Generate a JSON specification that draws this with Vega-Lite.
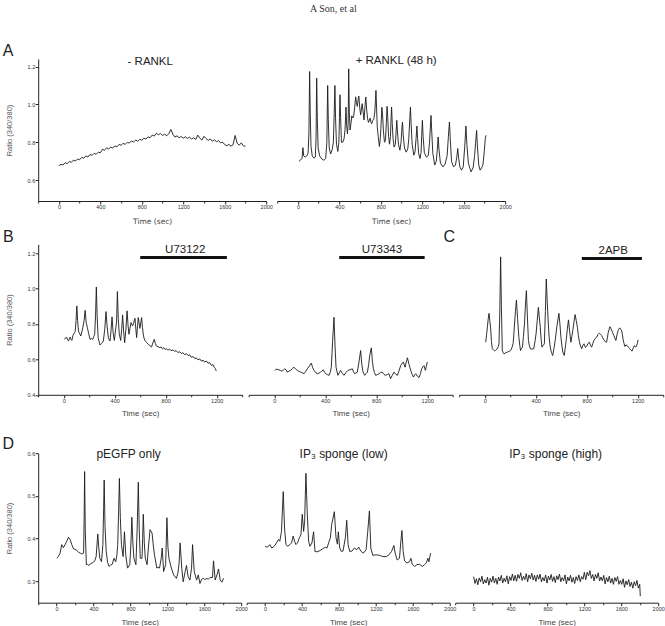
{
"$schema": "https://vega.github.io/schema/vega-lite/v6.json",
"padding": {"left": 2.2, "top": 4, "right": 0, "bottom": 0},
"title": {"text": "A Son, et al", "font": "Liberation Serif", "fontSize": 10, "fontWeight": "normal", "color": "#333", "anchor": "middle", "offset": 29},
"config": {
  "view": {"stroke": null},
  "axis": {"domainColor": "#222", "tickColor": "#222", "labelColor": "#333", "labelFont": "Liberation Sans", "labelFontSize": 5.5, "titleFont": "Liberation Sans", "titleFontWeight": "normal", "titleFontSize": 8, "titleColor": "#444", "grid": false, "labelPadding": 0.5, "titlePadding": 6.5, "labelOverlap": false, "labelBound": false, "labelFlush": false, "tickSize": 3},
  "axisY": {"titleFontSize": 7.5, "titleColor": "#555", "titlePadding": 14},
  "line": {"color": "#1a1a1a", "strokeWidth": 0.9},
  "text": {"font": "Liberation Sans", "color": "#222"}
},
"spacing": 3.3,
"vconcat": [
 {"hconcat": [
  {"width": 228, "height": 142,
   "resolve": {"axis": {"x": "independent", "y": "independent"}},
   "layer": [
    {"data": {"values": [
{"t":0,"r":0.676},{"t":20,"r":0.684},{"t":40,"r":0.68},{"t":60,"r":0.692},{"t":80,"r":0.688},{"t":100,"r":0.698},{"t":120,"r":0.694},{"t":140,"r":0.706},{"t":160,"r":0.701},{"t":180,"r":0.712},{"t":200,"r":0.708},{"t":220,"r":0.72},{"t":240,"r":0.716},{"t":260,"r":0.728},{"t":280,"r":0.722},{"t":300,"r":0.735},{"t":320,"r":0.731},{"t":340,"r":0.742},{"t":360,"r":0.737},{"t":380,"r":0.748},{"t":400,"r":0.745},{"t":420,"r":0.763},{"t":440,"r":0.758},{"t":460,"r":0.771},{"t":480,"r":0.765},{"t":500,"r":0.774},{"t":520,"r":0.77},{"t":540,"r":0.781},{"t":560,"r":0.776},{"t":580,"r":0.789},{"t":600,"r":0.784},{"t":620,"r":0.795},{"t":640,"r":0.789},{"t":660,"r":0.8},{"t":680,"r":0.796},{"t":700,"r":0.807},{"t":720,"r":0.801},{"t":740,"r":0.812},{"t":760,"r":0.806},{"t":780,"r":0.816},{"t":800,"r":0.811},{"t":820,"r":0.822},{"t":840,"r":0.817},{"t":860,"r":0.829},{"t":880,"r":0.824},{"t":900,"r":0.838},{"t":920,"r":0.833},{"t":940,"r":0.848},{"t":960,"r":0.84},{"t":980,"r":0.846},{"t":1000,"r":0.836},{"t":1020,"r":0.843},{"t":1040,"r":0.834},{"t":1060,"r":0.845},{"t":1080,"r":0.868},{"t":1100,"r":0.842},{"t":1120,"r":0.828},{"t":1140,"r":0.834},{"t":1160,"r":0.824},{"t":1180,"r":0.831},{"t":1200,"r":0.822},{"t":1220,"r":0.829},{"t":1240,"r":0.821},{"t":1260,"r":0.827},{"t":1280,"r":0.818},{"t":1300,"r":0.824},{"t":1320,"r":0.815},{"t":1340,"r":0.838},{"t":1360,"r":0.822},{"t":1380,"r":0.812},{"t":1400,"r":0.832},{"t":1420,"r":0.82},{"t":1440,"r":0.81},{"t":1460,"r":0.818},{"t":1480,"r":0.806},{"t":1500,"r":0.813},{"t":1520,"r":0.803},{"t":1540,"r":0.809},{"t":1560,"r":0.797},{"t":1580,"r":0.801},{"t":1600,"r":0.788},{"t":1620,"r":0.782},{"t":1640,"r":0.789},{"t":1660,"r":0.78},{"t":1680,"r":0.787},{"t":1700,"r":0.836},{"t":1720,"r":0.795},{"t":1740,"r":0.785},{"t":1760,"r":0.797},{"t":1780,"r":0.781},{"t":1800,"r":0.779}
    ]},
     "mark": {"type": "line"},
     "encoding": {
      "x": {"field": "t", "type": "quantitative", "title": "Time (sec)", "scale": {"domain": [-200, 2000], "nice": false, "zero": false},
            "axis": {"labelOverlap": false, "titleFont": "DejaVu Sans", "titleFontSize": 7.5, "titlePadding": 7, "values": [0,400,800,1200,1600,2000], "format": "d"}},
      "y": {"field": "r", "type": "quantitative", "title": "Ratio (340/380)", "scale": {"domain": [0.49, 1.24], "nice": false, "zero": false},
            "axis": {"labelOverlap": false, "values": [0.6, 0.8, 1.0, 1.2], "format": ".1f"}}
     }},
    {"data": {"values": [{"t": 881, "r": 1.224, "label": "- RANKL"}]},
     "mark": {"type": "text", "fontSize": 11.5},
     "encoding": {"x": {"field": "t", "type": "quantitative", "axis": {"orient": "bottom", "values": [-200,200,600,1000,1400,1800], "labels": false, "domain": false, "tickSize": 2, "title": null}}, "y": {"field": "r", "type": "quantitative", "axis": null}, "text": {"field": "label"}}},
    {"data": {"values": [{"t": -490, "r": 1.282, "label": "A"}]},
     "mark": {"type": "text", "fontSize": 16},
     "encoding": {"x": {"field": "t", "type": "quantitative", "axis": null}, "y": {"field": "r", "type": "quantitative", "axis": null}, "text": {"field": "label"}}}
   ]},
  {"width": 228, "height": 142,
   "resolve": {"axis": {"x": "independent", "y": "independent"}},
   "layer": [
    {"data": {"values": [
{"t":10,"r":0.7},{"t":25,"r":0.706},{"t":40,"r":0.716},{"t":48,"r":0.772},{"t":56,"r":0.728},{"t":70,"r":0.722},{"t":85,"r":0.728},{"t":98,"r":0.742},{"t":106,"r":0.85},{"t":113,"r":1.174},{"t":119,"r":0.95},{"t":126,"r":0.78},{"t":138,"r":0.728},{"t":155,"r":0.716},{"t":168,"r":0.722},{"t":175,"r":0.82},{"t":181,"r":1.139},{"t":187,"r":0.93},{"t":195,"r":0.77},{"t":210,"r":0.728},{"t":230,"r":0.712},{"t":250,"r":0.705},{"t":268,"r":0.714},{"t":279,"r":0.8},{"t":287,"r":1.1},{"t":293,"r":0.92},{"t":302,"r":0.77},{"t":315,"r":0.738},{"t":330,"r":0.76},{"t":342,"r":0.8},{"t":350,"r":0.95},{"t":357,"r":1.1},{"t":363,"r":0.93},{"t":372,"r":0.79},{"t":385,"r":0.752},{"t":395,"r":0.8},{"t":401,"r":0.93},{"t":406,"r":1.051},{"t":412,"r":0.93},{"t":420,"r":0.8},{"t":432,"r":0.8},{"t":445,"r":0.818},{"t":455,"r":0.87},{"t":464,"r":0.986},{"t":470,"r":0.89},{"t":478,"r":0.845},{"t":485,"r":0.9},{"t":490,"r":1.188},{"t":496,"r":0.96},{"t":503,"r":0.865},{"t":512,"r":0.9},{"t":520,"r":0.94},{"t":528,"r":0.928},{"t":537,"r":0.935},{"t":548,"r":0.985},{"t":557,"r":1.04},{"t":565,"r":1.01},{"t":573,"r":0.99},{"t":582,"r":1.03},{"t":588,"r":1.044},{"t":596,"r":0.985},{"t":605,"r":0.945},{"t":613,"r":0.975},{"t":620,"r":1.004},{"t":628,"r":0.965},{"t":638,"r":0.918},{"t":647,"r":0.99},{"t":655,"r":1.039},{"t":663,"r":0.975},{"t":672,"r":0.925},{"t":681,"r":0.905},{"t":690,"r":0.918},{"t":697,"r":0.928},{"t":705,"r":0.905},{"t":712,"r":0.898},{"t":722,"r":0.915},{"t":733,"r":0.925},{"t":742,"r":0.96},{"t":748,"r":1.02},{"t":753,"r":1.074},{"t":759,"r":0.98},{"t":766,"r":0.88},{"t":775,"r":0.83},{"t":786,"r":0.778},{"t":795,"r":0.82},{"t":803,"r":0.9},{"t":810,"r":0.985},{"t":817,"r":0.945},{"t":825,"r":0.86},{"t":835,"r":0.8},{"t":845,"r":0.81},{"t":853,"r":0.9},{"t":860,"r":0.99},{"t":867,"r":0.93},{"t":875,"r":0.83},{"t":884,"r":0.79},{"t":893,"r":0.83},{"t":899,"r":0.93},{"t":904,"r":0.986},{"t":910,"r":0.9},{"t":918,"r":0.82},{"t":928,"r":0.775},{"t":940,"r":0.79},{"t":948,"r":0.86},{"t":954,"r":0.916},{"t":960,"r":0.86},{"t":970,"r":0.79},{"t":984,"r":0.758},{"t":995,"r":0.8},{"t":1003,"r":0.87},{"t":1009,"r":0.907},{"t":1016,"r":0.84},{"t":1028,"r":0.77},{"t":1045,"r":0.748},{"t":1060,"r":0.765},{"t":1070,"r":0.82},{"t":1080,"r":0.93},{"t":1086,"r":0.986},{"t":1092,"r":0.9},{"t":1102,"r":0.79},{"t":1118,"r":0.732},{"t":1130,"r":0.75},{"t":1140,"r":0.82},{"t":1148,"r":0.886},{"t":1155,"r":0.82},{"t":1165,"r":0.74},{"t":1178,"r":0.714},{"t":1188,"r":0.745},{"t":1195,"r":0.84},{"t":1201,"r":0.916},{"t":1208,"r":0.83},{"t":1220,"r":0.745},{"t":1240,"r":0.722},{"t":1258,"r":0.73},{"t":1270,"r":0.8},{"t":1278,"r":0.88},{"t":1284,"r":0.942},{"t":1291,"r":0.86},{"t":1302,"r":0.74},{"t":1320,"r":0.68},{"t":1335,"r":0.7},{"t":1345,"r":0.76},{"t":1353,"r":0.828},{"t":1360,"r":0.77},{"t":1375,"r":0.69},{"t":1400,"r":0.67},{"t":1420,"r":0.685},{"t":1440,"r":0.73},{"t":1452,"r":0.83},{"t":1462,"r":0.907},{"t":1470,"r":0.82},{"t":1482,"r":0.7},{"t":1502,"r":0.67},{"t":1520,"r":0.68},{"t":1533,"r":0.72},{"t":1542,"r":0.767},{"t":1550,"r":0.72},{"t":1563,"r":0.67},{"t":1578,"r":0.653},{"t":1595,"r":0.67},{"t":1610,"r":0.78},{"t":1621,"r":0.886},{"t":1630,"r":0.79},{"t":1645,"r":0.69},{"t":1670,"r":0.644},{"t":1690,"r":0.665},{"t":1705,"r":0.73},{"t":1715,"r":0.8},{"t":1724,"r":0.863},{"t":1732,"r":0.78},{"t":1745,"r":0.68},{"t":1758,"r":0.653},{"t":1772,"r":0.665},{"t":1785,"r":0.68},{"t":1798,"r":0.75},{"t":1808,"r":0.82},{"t":1815,"r":0.837}
    ]},
     "mark": {"type": "line"},
     "encoding": {
      "x": {"field": "t", "type": "quantitative", "title": "Time (sec)", "scale": {"domain": [-200, 2000], "nice": false, "zero": false},
            "axis": {"labelOverlap": false, "titleFont": "DejaVu Sans", "titleFontSize": 7.5, "titlePadding": 7, "values": [0,400,800,1200,1600,2000], "format": "d"}},
      "y": {"field": "r", "type": "quantitative", "scale": {"domain": [0.49, 1.24], "nice": false, "zero": false}, "axis": null}
     }},
    {"data": {"values": [{"t": 948, "r": 1.229, "label": "+ RANKL (48 h)"}]},
     "mark": {"type": "text", "fontSize": 11.5},
     "encoding": {"x": {"field": "t", "type": "quantitative", "axis": {"orient": "bottom", "values": [-200,200,600,1000,1400,1800], "labels": false, "domain": false, "tickSize": 2, "title": null}}, "y": {"field": "r", "type": "quantitative", "axis": null}, "text": {"field": "label"}}}
   ]}
 ], "spacing": 11, "bounds": "flush"},
 {"vconcat": [
  {"hconcat": [
   {"width": 204, "height": 150.5,
    "resolve": {"axis": {"x": "independent", "y": "independent"}},
    "layer": [
     {"data": {"values": [
{"t":6,"r":0.713},{"t":15,"r":0.722},{"t":25,"r":0.723},{"t":32,"r":0.708},{"t":38,"r":0.704},{"t":45,"r":0.718},{"t":51,"r":0.726},{"t":58,"r":0.712},{"t":64,"r":0.707},{"t":72,"r":0.732},{"t":77,"r":0.742},{"t":84,"r":0.75},{"t":90,"r":0.757},{"t":97,"r":0.82},{"t":103,"r":0.902},{"t":109,"r":0.82},{"t":116,"r":0.76},{"t":125,"r":0.745},{"t":134,"r":0.732},{"t":142,"r":0.755},{"t":150,"r":0.779},{"t":160,"r":0.82},{"t":168,"r":0.877},{"t":176,"r":0.81},{"t":186,"r":0.779},{"t":196,"r":0.745},{"t":207,"r":0.713},{"t":218,"r":0.718},{"t":228,"r":0.713},{"t":236,"r":0.73},{"t":243,"r":0.742},{"t":250,"r":0.85},{"t":256,"r":1.009},{"t":262,"r":0.85},{"t":270,"r":0.723},{"t":278,"r":0.7},{"t":285,"r":0.681},{"t":298,"r":0.69},{"t":311,"r":0.704},{"t":322,"r":0.77},{"t":332,"r":0.87},{"t":340,"r":0.79},{"t":350,"r":0.723},{"t":357,"r":0.712},{"t":363,"r":0.704},{"t":371,"r":0.76},{"t":379,"r":0.84},{"t":388,"r":0.75},{"t":397,"r":0.707},{"t":406,"r":0.76},{"t":415,"r":0.817},{"t":421,"r":0.983},{"t":428,"r":0.83},{"t":436,"r":0.742},{"t":447,"r":0.707},{"t":455,"r":0.77},{"t":462,"r":0.851},{"t":470,"r":0.76},{"t":478,"r":0.694},{"t":488,"r":0.77},{"t":497,"r":0.874},{"t":505,"r":0.79},{"t":512,"r":0.742},{"t":520,"r":0.775},{"t":528,"r":0.808},{"t":535,"r":0.795},{"t":541,"r":0.789},{"t":550,"r":0.81},{"t":559,"r":0.832},{"t":566,"r":0.77},{"t":572,"r":0.723},{"t":579,"r":0.79},{"t":585,"r":0.836},{"t":592,"r":0.8},{"t":598,"r":0.775},{"t":605,"r":0.81},{"t":611,"r":0.836},{"t":618,"r":0.78},{"t":624,"r":0.742},{"t":630,"r":0.72},{"t":637,"r":0.707},{"t":650,"r":0.695},{"t":663,"r":0.685},{"t":676,"r":0.678},{"t":689,"r":0.67},{"t":700,"r":0.695},{"t":710,"r":0.713},{"t":719,"r":0.69},{"t":728,"r":0.675},{"t":740,"r":0.672},{"t":754,"r":0.666},{"t":765,"r":0.67},{"t":775,"r":0.66},{"t":785,"r":0.666},{"t":795,"r":0.656},{"t":806,"r":0.66},{"t":818,"r":0.652},{"t":830,"r":0.658},{"t":842,"r":0.649},{"t":858,"r":0.654},{"t":870,"r":0.645},{"t":882,"r":0.65},{"t":895,"r":0.639},{"t":910,"r":0.643},{"t":922,"r":0.633},{"t":935,"r":0.638},{"t":948,"r":0.627},{"t":963,"r":0.632},{"t":975,"r":0.622},{"t":988,"r":0.626},{"t":1000,"r":0.612},{"t":1015,"r":0.616},{"t":1028,"r":0.604},{"t":1040,"r":0.609},{"t":1053,"r":0.597},{"t":1067,"r":0.603},{"t":1080,"r":0.59},{"t":1093,"r":0.596},{"t":1105,"r":0.584},{"t":1119,"r":0.591},{"t":1132,"r":0.578},{"t":1145,"r":0.582},{"t":1158,"r":0.566},{"t":1171,"r":0.57},{"t":1180,"r":0.556},{"t":1189,"r":0.548},{"t":1197,"r":0.534}
     ]},
      "mark": {"type": "line"},
      "encoding": {
       "x": {"field": "t", "type": "quantitative", "title": "Time (sec)", "scale": {"domain": [-200, 1400], "nice": false, "zero": false},
             "axis": {"labelOverlap": false, "titlePadding": 5.5, "values": [0,400,800,1200], "format": "d"}},
       "y": {"field": "r", "type": "quantitative", "title": "Ratio (340/380)", "scale": {"domain": [0.4, 1.25], "nice": false, "zero": false},
             "axis": {"labelOverlap": false, "values": [0.4, 0.6, 0.8, 1.0, 1.2], "format": ".1f"}}
      }},
     {"data": {"values": [{"t": 600, "t2": 1280, "r": 1.175}]},
      "mark": {"type": "rule", "strokeWidth": 3, "color": "#111"},
      "encoding": {"x": {"field": "t", "type": "quantitative", "axis": {"orient": "bottom", "values": [-200,200,600,1000,1400], "labels": false, "domain": false, "tickSize": 2, "title": null}}, "x2": {"field": "t2"}, "y": {"field": "r", "type": "quantitative", "axis": null}}},
     {"data": {"values": [{"t": 953, "r": 1.216, "label": "U73122"}]},
      "mark": {"type": "text", "fontSize": 11.5},
      "encoding": {"x": {"field": "t", "type": "quantitative", "axis": null}, "y": {"field": "r", "type": "quantitative", "axis": null}, "text": {"field": "label"}}},
     {"data": {"values": [{"t": -435, "r": 1.29, "label": "B"}]},
      "mark": {"type": "text", "fontSize": 16},
      "encoding": {"x": {"field": "t", "type": "quantitative", "axis": null}, "y": {"field": "r", "type": "quantitative", "axis": null}, "text": {"field": "label"}}}
    ]},
   {"width": 204, "height": 150.5,
    "resolve": {"axis": {"x": "independent", "y": "independent"}},
    "layer": [
     {"data": {"values": [
{"t":4,"r":0.538},{"t":20,"r":0.545},{"t":38,"r":0.541},{"t":50,"r":0.536},{"t":64,"r":0.534},{"t":82,"r":0.547},{"t":95,"r":0.54},{"t":103,"r":0.528},{"t":116,"r":0.534},{"t":129,"r":0.538},{"t":142,"r":0.548},{"t":155,"r":0.556},{"t":168,"r":0.545},{"t":182,"r":0.538},{"t":195,"r":0.532},{"t":208,"r":0.528},{"t":221,"r":0.524},{"t":234,"r":0.519},{"t":247,"r":0.532},{"t":260,"r":0.547},{"t":275,"r":0.562},{"t":291,"r":0.579},{"t":301,"r":0.555},{"t":312,"r":0.538},{"t":325,"r":0.526},{"t":338,"r":0.519},{"t":351,"r":0.522},{"t":364,"r":0.528},{"t":375,"r":0.536},{"t":385,"r":0.541},{"t":395,"r":0.528},{"t":404,"r":0.519},{"t":417,"r":0.514},{"t":430,"r":0.51},{"t":440,"r":0.528},{"t":448,"r":0.556},{"t":458,"r":0.7},{"t":469,"r":0.838},{"t":477,"r":0.68},{"t":485,"r":0.556},{"t":493,"r":0.53},{"t":500,"r":0.51},{"t":510,"r":0.524},{"t":521,"r":0.538},{"t":534,"r":0.522},{"t":547,"r":0.51},{"t":563,"r":0.526},{"t":579,"r":0.538},{"t":596,"r":0.542},{"t":613,"r":0.547},{"t":622,"r":0.53},{"t":631,"r":0.519},{"t":642,"r":0.524},{"t":652,"r":0.528},{"t":665,"r":0.585},{"t":678,"r":0.65},{"t":686,"r":0.58},{"t":694,"r":0.538},{"t":702,"r":0.52},{"t":710,"r":0.51},{"t":720,"r":0.52},{"t":731,"r":0.528},{"t":741,"r":0.57},{"t":749,"r":0.622},{"t":762,"r":0.665},{"t":770,"r":0.59},{"t":778,"r":0.547},{"t":787,"r":0.525},{"t":796,"r":0.51},{"t":809,"r":0.514},{"t":822,"r":0.519},{"t":835,"r":0.526},{"t":848,"r":0.528},{"t":861,"r":0.515},{"t":874,"r":0.51},{"t":887,"r":0.515},{"t":900,"r":0.519},{"t":913,"r":0.491},{"t":926,"r":0.51},{"t":940,"r":0.528},{"t":953,"r":0.516},{"t":966,"r":0.51},{"t":979,"r":0.535},{"t":992,"r":0.565},{"t":1003,"r":0.578},{"t":1013,"r":0.585},{"t":1020,"r":0.57},{"t":1026,"r":0.556},{"t":1036,"r":0.585},{"t":1045,"r":0.609},{"t":1058,"r":0.57},{"t":1071,"r":0.538},{"t":1082,"r":0.515},{"t":1092,"r":0.5},{"t":1101,"r":0.512},{"t":1110,"r":0.519},{"t":1123,"r":0.505},{"t":1136,"r":0.497},{"t":1147,"r":0.52},{"t":1157,"r":0.547},{"t":1166,"r":0.558},{"t":1175,"r":0.565},{"t":1180,"r":0.55},{"t":1186,"r":0.538},{"t":1193,"r":0.56},{"t":1201,"r":0.585}
     ]},
      "mark": {"type": "line"},
      "encoding": {
       "x": {"field": "t", "type": "quantitative", "title": "Time (sec)", "scale": {"domain": [-200, 1400], "nice": false, "zero": false},
             "axis": {"labelOverlap": false, "titlePadding": 5.5, "values": [0,400,800,1200], "format": "d"}},
       "y": {"field": "r", "type": "quantitative", "scale": {"domain": [0.4, 1.25], "nice": false, "zero": false}, "axis": null}
      }},
     {"data": {"values": [{"t": 510, "t2": 1180, "r": 1.175}]},
      "mark": {"type": "rule", "strokeWidth": 3, "color": "#111"},
      "encoding": {"x": {"field": "t", "type": "quantitative", "axis": {"orient": "bottom", "values": [-200,200,600,1000,1400], "labels": false, "domain": false, "tickSize": 2, "title": null}}, "x2": {"field": "t2"}, "y": {"field": "r", "type": "quantitative", "axis": null}}},
     {"data": {"values": [{"t": 845, "r": 1.216, "label": "U73343"}]},
      "mark": {"type": "text", "fontSize": 11.5},
      "encoding": {"x": {"field": "t", "type": "quantitative", "axis": null}, "y": {"field": "r", "type": "quantitative", "axis": null}, "text": {"field": "label"}}}
    ]},
   {"width": 204, "height": 150.5,
    "resolve": {"axis": {"x": "independent", "y": "independent"}},
    "layer": [
     {"data": {"values": [
{"t":8,"r":0.697},{"t":15,"r":0.74},{"t":21,"r":0.782},{"t":28,"r":0.83},{"t":34,"r":0.86},{"t":40,"r":0.82},{"t":47,"r":0.772},{"t":53,"r":0.7},{"t":60,"r":0.66},{"t":70,"r":0.652},{"t":78,"r":0.647},{"t":89,"r":0.655},{"t":99,"r":0.66},{"t":106,"r":0.672},{"t":112,"r":0.688},{"t":118,"r":0.85},{"t":125,"r":1.179},{"t":131,"r":0.9},{"t":138,"r":0.65},{"t":145,"r":0.638},{"t":151,"r":0.631},{"t":164,"r":0.637},{"t":177,"r":0.641},{"t":190,"r":0.645},{"t":203,"r":0.65},{"t":213,"r":0.665},{"t":223,"r":0.688},{"t":229,"r":0.745},{"t":234,"r":0.8},{"t":241,"r":0.87},{"t":249,"r":0.935},{"t":258,"r":0.83},{"t":268,"r":0.725},{"t":275,"r":0.68},{"t":281,"r":0.65},{"t":288,"r":0.66},{"t":296,"r":0.669},{"t":304,"r":0.73},{"t":312,"r":0.8},{"t":319,"r":0.9},{"t":327,"r":0.988},{"t":335,"r":0.84},{"t":343,"r":0.707},{"t":351,"r":0.675},{"t":359,"r":0.66},{"t":372,"r":0.658},{"t":385,"r":0.66},{"t":394,"r":0.7},{"t":403,"r":0.744},{"t":412,"r":0.82},{"t":421,"r":0.894},{"t":428,"r":0.84},{"t":436,"r":0.782},{"t":442,"r":0.72},{"t":449,"r":0.669},{"t":458,"r":0.678},{"t":468,"r":0.688},{"t":476,"r":0.87},{"t":483,"r":1.054},{"t":491,"r":0.92},{"t":499,"r":0.8},{"t":506,"r":0.72},{"t":514,"r":0.669},{"t":523,"r":0.64},{"t":533,"r":0.622},{"t":543,"r":0.66},{"t":553,"r":0.707},{"t":567,"r":0.79},{"t":582,"r":0.86},{"t":590,"r":0.8},{"t":598,"r":0.725},{"t":606,"r":0.675},{"t":613,"r":0.641},{"t":619,"r":0.63},{"t":624,"r":0.622},{"t":631,"r":0.66},{"t":639,"r":0.707},{"t":648,"r":0.77},{"t":657,"r":0.823},{"t":666,"r":0.76},{"t":676,"r":0.697},{"t":684,"r":0.73},{"t":691,"r":0.763},{"t":700,"r":0.81},{"t":709,"r":0.853},{"t":718,"r":0.82},{"t":727,"r":0.782},{"t":735,"r":0.735},{"t":743,"r":0.697},{"t":752,"r":0.675},{"t":761,"r":0.66},{"t":770,"r":0.68},{"t":779,"r":0.688},{"t":790,"r":0.668},{"t":800,"r":0.673},{"t":810,"r":0.69},{"t":821,"r":0.697},{"t":830,"r":0.68},{"t":839,"r":0.669},{"t":848,"r":0.69},{"t":857,"r":0.707},{"t":867,"r":0.718},{"t":878,"r":0.725},{"t":888,"r":0.74},{"t":899,"r":0.748},{"t":908,"r":0.742},{"t":917,"r":0.735},{"t":926,"r":0.722},{"t":935,"r":0.71},{"t":946,"r":0.7},{"t":956,"r":0.697},{"t":963,"r":0.725},{"t":969,"r":0.753},{"t":976,"r":0.77},{"t":982,"r":0.785},{"t":989,"r":0.775},{"t":995,"r":0.766},{"t":1004,"r":0.75},{"t":1013,"r":0.735},{"t":1021,"r":0.72},{"t":1029,"r":0.707},{"t":1038,"r":0.74},{"t":1047,"r":0.763},{"t":1053,"r":0.772},{"t":1060,"r":0.778},{"t":1066,"r":0.77},{"t":1073,"r":0.766},{"t":1080,"r":0.74},{"t":1086,"r":0.71},{"t":1093,"r":0.69},{"t":1099,"r":0.673},{"t":1108,"r":0.682},{"t":1117,"r":0.678},{"t":1128,"r":0.668},{"t":1138,"r":0.66},{"t":1147,"r":0.652},{"t":1156,"r":0.647},{"t":1165,"r":0.665},{"t":1174,"r":0.678},{"t":1182,"r":0.67},{"t":1190,"r":0.673},{"t":1197,"r":0.69},{"t":1203,"r":0.71}
     ]},
      "mark": {"type": "line"},
      "encoding": {
       "x": {"field": "t", "type": "quantitative", "title": "Time (sec)", "scale": {"domain": [-200, 1400], "nice": false, "zero": false},
             "axis": {"labelOverlap": false, "titlePadding": 5.5, "values": [0,400,800,1200], "format": "d"}},
       "y": {"field": "r", "type": "quantitative", "scale": {"domain": [0.4, 1.25], "nice": false, "zero": false}, "axis": null}
      }},
     {"data": {"values": [{"t": 762, "t2": 1233, "r": 1.17}]},
      "mark": {"type": "rule", "strokeWidth": 3, "color": "#111"},
      "encoding": {"x": {"field": "t", "type": "quantitative", "axis": {"orient": "bottom", "values": [-200,200,600,1000,1400], "labels": false, "domain": false, "tickSize": 2, "title": null}}, "x2": {"field": "t2"}, "y": {"field": "r", "type": "quantitative", "axis": null}}},
     {"data": {"values": [{"t": 1008, "r": 1.21, "label": "2APB"}]},
      "mark": {"type": "text", "fontSize": 11.5},
      "encoding": {"x": {"field": "t", "type": "quantitative", "axis": null}, "y": {"field": "r", "type": "quantitative", "axis": null}, "text": {"field": "label"}}},
     {"data": {"values": [{"t": -278, "r": 1.29, "label": "C"}]},
      "mark": {"type": "text", "fontSize": 16},
      "encoding": {"x": {"field": "t", "type": "quantitative", "axis": null}, "y": {"field": "r", "type": "quantitative", "axis": null}, "text": {"field": "label"}}}
    ]}
  ], "spacing": 6.5, "bounds": "flush"},
  {"hconcat": [
   {"width": 203, "height": 149.5,
    "resolve": {"axis": {"x": "independent", "y": "independent"}},
    "layer": [
     {"data": {"values": [
{"t":0,"r":0.354},{"t":18,"r":0.358},{"t":37,"r":0.366},{"t":55,"r":0.386},{"t":73,"r":0.379},{"t":91,"r":0.386},{"t":110,"r":0.394},{"t":128,"r":0.403},{"t":146,"r":0.398},{"t":164,"r":0.386},{"t":183,"r":0.376},{"t":200,"r":0.375},{"t":219,"r":0.372},{"t":238,"r":0.368},{"t":256,"r":0.366},{"t":274,"r":0.364},{"t":292,"r":0.366},{"t":298,"r":0.45},{"t":303,"r":0.557},{"t":310,"r":0.42},{"t":322,"r":0.339},{"t":335,"r":0.34},{"t":347,"r":0.337},{"t":365,"r":0.341},{"t":384,"r":0.343},{"t":400,"r":0.345},{"t":413,"r":0.348},{"t":428,"r":0.358},{"t":437,"r":0.385},{"t":446,"r":0.411},{"t":456,"r":0.38},{"t":468,"r":0.354},{"t":486,"r":0.346},{"t":501,"r":0.386},{"t":509,"r":0.47},{"t":515,"r":0.537},{"t":524,"r":0.43},{"t":537,"r":0.37},{"t":552,"r":0.345},{"t":567,"r":0.335},{"t":585,"r":0.338},{"t":603,"r":0.34},{"t":621,"r":0.354},{"t":640,"r":0.346},{"t":652,"r":0.36},{"t":662,"r":0.386},{"t":672,"r":0.47},{"t":680,"r":0.541},{"t":690,"r":0.45},{"t":702,"r":0.386},{"t":720,"r":0.358},{"t":735,"r":0.416},{"t":749,"r":0.362},{"t":768,"r":0.331},{"t":793,"r":0.339},{"t":805,"r":0.39},{"t":815,"r":0.45},{"t":826,"r":0.39},{"t":837,"r":0.354},{"t":859,"r":0.339},{"t":872,"r":0.42},{"t":885,"r":0.532},{"t":895,"r":0.42},{"t":906,"r":0.354},{"t":925,"r":0.354},{"t":932,"r":0.4},{"t":939,"r":0.457},{"t":950,"r":0.39},{"t":961,"r":0.354},{"t":980,"r":0.339},{"t":994,"r":0.378},{"t":1012,"r":0.421},{"t":1034,"r":0.413},{"t":1047,"r":0.385},{"t":1060,"r":0.362},{"t":1086,"r":0.331},{"t":1100,"r":0.333},{"t":1115,"r":0.331},{"t":1133,"r":0.354},{"t":1144,"r":0.378},{"t":1159,"r":0.323},{"t":1181,"r":0.339},{"t":1195,"r":0.449},{"t":1206,"r":0.38},{"t":1217,"r":0.354},{"t":1243,"r":0.331},{"t":1268,"r":0.315},{"t":1298,"r":0.307},{"t":1315,"r":0.32},{"t":1327,"r":0.343},{"t":1338,"r":0.39},{"t":1356,"r":0.331},{"t":1371,"r":0.299},{"t":1393,"r":0.323},{"t":1407,"r":0.337},{"t":1425,"r":0.311},{"t":1444,"r":0.303},{"t":1462,"r":0.331},{"t":1473,"r":0.386},{"t":1491,"r":0.323},{"t":1517,"r":0.303},{"t":1535,"r":0.315},{"t":1553,"r":0.295},{"t":1572,"r":0.305},{"t":1590,"r":0.307},{"t":1608,"r":0.304},{"t":1626,"r":0.307},{"t":1645,"r":0.305},{"t":1663,"r":0.309},{"t":1689,"r":0.309},{"t":1700,"r":0.348},{"t":1718,"r":0.303},{"t":1743,"r":0.319},{"t":1754,"r":0.329},{"t":1773,"r":0.303},{"t":1791,"r":0.298},{"t":1809,"r":0.307}
     ]},
      "mark": {"type": "line"},
      "encoding": {
       "x": {"field": "t", "type": "quantitative", "title": "Time (sec)", "scale": {"domain": [-200, 2000], "nice": false, "zero": false},
             "axis": {"labelOverlap": false, "titlePadding": 6.5, "values": [0,400,800,1200,1600,2000], "format": "d"}},
       "y": {"field": "r", "type": "quantitative", "title": "Ratio (340/380)", "scale": {"domain": [0.25, 0.6], "nice": false, "zero": false},
             "axis": {"labelOverlap": false, "values": [0.3, 0.4, 0.5, 0.6], "format": ".1f"}}
      }},
     {"data": {"values": [{"t": 780, "r": 0.597, "label": "pEGFP only"}]},
      "mark": {"type": "text", "fontSize": 12},
      "encoding": {"x": {"field": "t", "type": "quantitative", "axis": {"orient": "bottom", "values": [-200,200,600,1000,1400,1800], "labels": false, "domain": false, "tickSize": 2, "title": null}}, "y": {"field": "r", "type": "quantitative", "axis": null}, "text": {"field": "label"}}},
     {"data": {"values": [{"t": -525, "r": 0.621, "label": "D"}]},
      "mark": {"type": "text", "fontSize": 16},
      "encoding": {"x": {"field": "t", "type": "quantitative", "axis": null}, "y": {"field": "r", "type": "quantitative", "axis": null}, "text": {"field": "label"}}}
    ]},
   {"width": 203, "height": 149.5,
    "resolve": {"axis": {"x": "independent", "y": "independent"}},
    "layer": [
     {"data": {"values": [
{"t":0,"r":0.382},{"t":25,"r":0.38},{"t":51,"r":0.386},{"t":72,"r":0.378},{"t":98,"r":0.382},{"t":123,"r":0.39},{"t":145,"r":0.398},{"t":159,"r":0.394},{"t":177,"r":0.417},{"t":196,"r":0.51},{"t":210,"r":0.425},{"t":225,"r":0.387},{"t":243,"r":0.382},{"t":268,"r":0.386},{"t":286,"r":0.39},{"t":304,"r":0.406},{"t":319,"r":0.394},{"t":333,"r":0.386},{"t":351,"r":0.39},{"t":370,"r":0.402},{"t":388,"r":0.409},{"t":402,"r":0.457},{"t":417,"r":0.417},{"t":428,"r":0.441},{"t":435,"r":0.5},{"t":442,"r":0.553},{"t":450,"r":0.5},{"t":457,"r":0.457},{"t":471,"r":0.394},{"t":486,"r":0.382},{"t":507,"r":0.39},{"t":525,"r":0.416},{"t":540,"r":0.37},{"t":562,"r":0.369},{"t":594,"r":0.372},{"t":623,"r":0.376},{"t":652,"r":0.38},{"t":670,"r":0.378},{"t":688,"r":0.39},{"t":707,"r":0.402},{"t":721,"r":0.433},{"t":750,"r":0.463},{"t":768,"r":0.402},{"t":783,"r":0.387},{"t":793,"r":0.416},{"t":808,"r":0.378},{"t":826,"r":0.37},{"t":844,"r":0.371},{"t":870,"r":0.403},{"t":884,"r":0.443},{"t":899,"r":0.386},{"t":917,"r":0.37},{"t":942,"r":0.371},{"t":967,"r":0.378},{"t":993,"r":0.374},{"t":1014,"r":0.38},{"t":1040,"r":0.37},{"t":1065,"r":0.366},{"t":1094,"r":0.374},{"t":1112,"r":0.417},{"t":1130,"r":0.465},{"t":1145,"r":0.378},{"t":1167,"r":0.361},{"t":1203,"r":0.362},{"t":1239,"r":0.361},{"t":1275,"r":0.358},{"t":1312,"r":0.358},{"t":1341,"r":0.362},{"t":1370,"r":0.37},{"t":1395,"r":0.384},{"t":1409,"r":0.366},{"t":1431,"r":0.35},{"t":1456,"r":0.354},{"t":1471,"r":0.394},{"t":1482,"r":0.419},{"t":1496,"r":0.37},{"t":1511,"r":0.348},{"t":1536,"r":0.343},{"t":1565,"r":0.346},{"t":1580,"r":0.354},{"t":1594,"r":0.34},{"t":1620,"r":0.335},{"t":1645,"r":0.339},{"t":1674,"r":0.34},{"t":1703,"r":0.335},{"t":1728,"r":0.339},{"t":1746,"r":0.343},{"t":1764,"r":0.354},{"t":1775,"r":0.346},{"t":1793,"r":0.366}
     ]},
      "mark": {"type": "line"},
      "encoding": {
       "x": {"field": "t", "type": "quantitative", "title": "Time (sec)", "scale": {"domain": [-200, 2000], "nice": false, "zero": false},
             "axis": {"labelOverlap": false, "titlePadding": 6.5, "values": [0,400,800,1200,1600,2000], "format": "d"}},
       "y": {"field": "r", "type": "quantitative", "scale": {"domain": [0.25, 0.6], "nice": false, "zero": false}, "axis": null}
      }},
     {"data": {"values": [{"t": 851, "r": 0.597, "label": "IP₃ sponge (low)"}]},
      "mark": {"type": "text", "fontSize": 12},
      "encoding": {"x": {"field": "t", "type": "quantitative", "axis": {"orient": "bottom", "values": [-200,200,600,1000,1400,1800], "labels": false, "domain": false, "tickSize": 2, "title": null}}, "y": {"field": "r", "type": "quantitative", "axis": null}, "text": {"field": "label"}}}
    ]},
   {"width": 203, "height": 149.5,
    "resolve": {"axis": {"x": "independent", "y": "independent"}},
    "layer": [
     {"data": {"values": [
{"t":0,"r":0.311},{"t":15,"r":0.295},{"t":30,"r":0.306},{"t":45,"r":0.292},{"t":60,"r":0.308},{"t":75,"r":0.299},{"t":90,"r":0.312},{"t":105,"r":0.294},{"t":120,"r":0.304},{"t":135,"r":0.296},{"t":150,"r":0.31},{"t":165,"r":0.291},{"t":180,"r":0.307},{"t":195,"r":0.298},{"t":210,"r":0.312},{"t":225,"r":0.296},{"t":240,"r":0.307},{"t":255,"r":0.293},{"t":270,"r":0.31},{"t":285,"r":0.301},{"t":300,"r":0.314},{"t":315,"r":0.296},{"t":330,"r":0.307},{"t":345,"r":0.299},{"t":360,"r":0.313},{"t":375,"r":0.294},{"t":390,"r":0.311},{"t":405,"r":0.302},{"t":420,"r":0.317},{"t":435,"r":0.301},{"t":450,"r":0.314},{"t":465,"r":0.3},{"t":480,"r":0.316},{"t":495,"r":0.307},{"t":510,"r":0.32},{"t":525,"r":0.302},{"t":540,"r":0.312},{"t":555,"r":0.304},{"t":570,"r":0.318},{"t":585,"r":0.299},{"t":600,"r":0.315},{"t":615,"r":0.306},{"t":630,"r":0.319},{"t":645,"r":0.303},{"t":660,"r":0.314},{"t":675,"r":0.3},{"t":690,"r":0.315},{"t":705,"r":0.305},{"t":720,"r":0.317},{"t":735,"r":0.299},{"t":750,"r":0.309},{"t":765,"r":0.301},{"t":780,"r":0.315},{"t":795,"r":0.296},{"t":810,"r":0.312},{"t":825,"r":0.303},{"t":840,"r":0.316},{"t":855,"r":0.3},{"t":870,"r":0.311},{"t":885,"r":0.297},{"t":900,"r":0.313},{"t":915,"r":0.304},{"t":930,"r":0.317},{"t":945,"r":0.299},{"t":960,"r":0.309},{"t":975,"r":0.301},{"t":990,"r":0.315},{"t":1005,"r":0.294},{"t":1020,"r":0.31},{"t":1035,"r":0.301},{"t":1050,"r":0.314},{"t":1065,"r":0.298},{"t":1080,"r":0.309},{"t":1095,"r":0.295},{"t":1110,"r":0.311},{"t":1125,"r":0.302},{"t":1140,"r":0.315},{"t":1155,"r":0.299},{"t":1170,"r":0.311},{"t":1185,"r":0.305},{"t":1200,"r":0.321},{"t":1215,"r":0.304},{"t":1230,"r":0.321},{"t":1245,"r":0.313},{"t":1260,"r":0.325},{"t":1275,"r":0.307},{"t":1290,"r":0.316},{"t":1305,"r":0.301},{"t":1320,"r":0.316},{"t":1335,"r":0.307},{"t":1350,"r":0.32},{"t":1365,"r":0.301},{"t":1380,"r":0.31},{"t":1395,"r":0.301},{"t":1410,"r":0.314},{"t":1425,"r":0.294},{"t":1440,"r":0.309},{"t":1455,"r":0.299},{"t":1470,"r":0.312},{"t":1485,"r":0.296},{"t":1500,"r":0.307},{"t":1515,"r":0.293},{"t":1530,"r":0.309},{"t":1545,"r":0.3},{"t":1560,"r":0.311},{"t":1575,"r":0.293},{"t":1590,"r":0.302},{"t":1605,"r":0.293},{"t":1620,"r":0.306},{"t":1635,"r":0.286},{"t":1650,"r":0.301},{"t":1665,"r":0.292},{"t":1680,"r":0.304},{"t":1695,"r":0.288},{"t":1710,"r":0.298},{"t":1725,"r":0.284},{"t":1740,"r":0.299},{"t":1755,"r":0.29},{"t":1770,"r":0.302},{"t":1785,"r":0.284},{"t":1800,"r":0.293},{"t":1806,"r":0.265}
     ]},
      "mark": {"type": "line"},
      "encoding": {
       "x": {"field": "t", "type": "quantitative", "title": "Time (sec)", "scale": {"domain": [-200, 2000], "nice": false, "zero": false},
             "axis": {"labelOverlap": false, "titlePadding": 6.5, "values": [0,400,800,1200,1600,2000], "format": "d"}},
       "y": {"field": "r", "type": "quantitative", "scale": {"domain": [0.25, 0.6], "nice": false, "zero": false}, "axis": null}
      }},
     {"data": {"values": [{"t": 889, "r": 0.597, "label": "IP₃ sponge (high)"}]},
      "mark": {"type": "text", "fontSize": 12},
      "encoding": {"x": {"field": "t", "type": "quantitative", "axis": {"orient": "bottom", "values": [-200,200,600,1000,1400,1800], "labels": false, "domain": false, "tickSize": 2, "title": null}}, "y": {"field": "r", "type": "quantitative", "axis": null}, "text": {"field": "label"}}}
    ]}
  ], "spacing": 5.5, "bounds": "flush"}
 ], "spacing": 18.9}
]
}
